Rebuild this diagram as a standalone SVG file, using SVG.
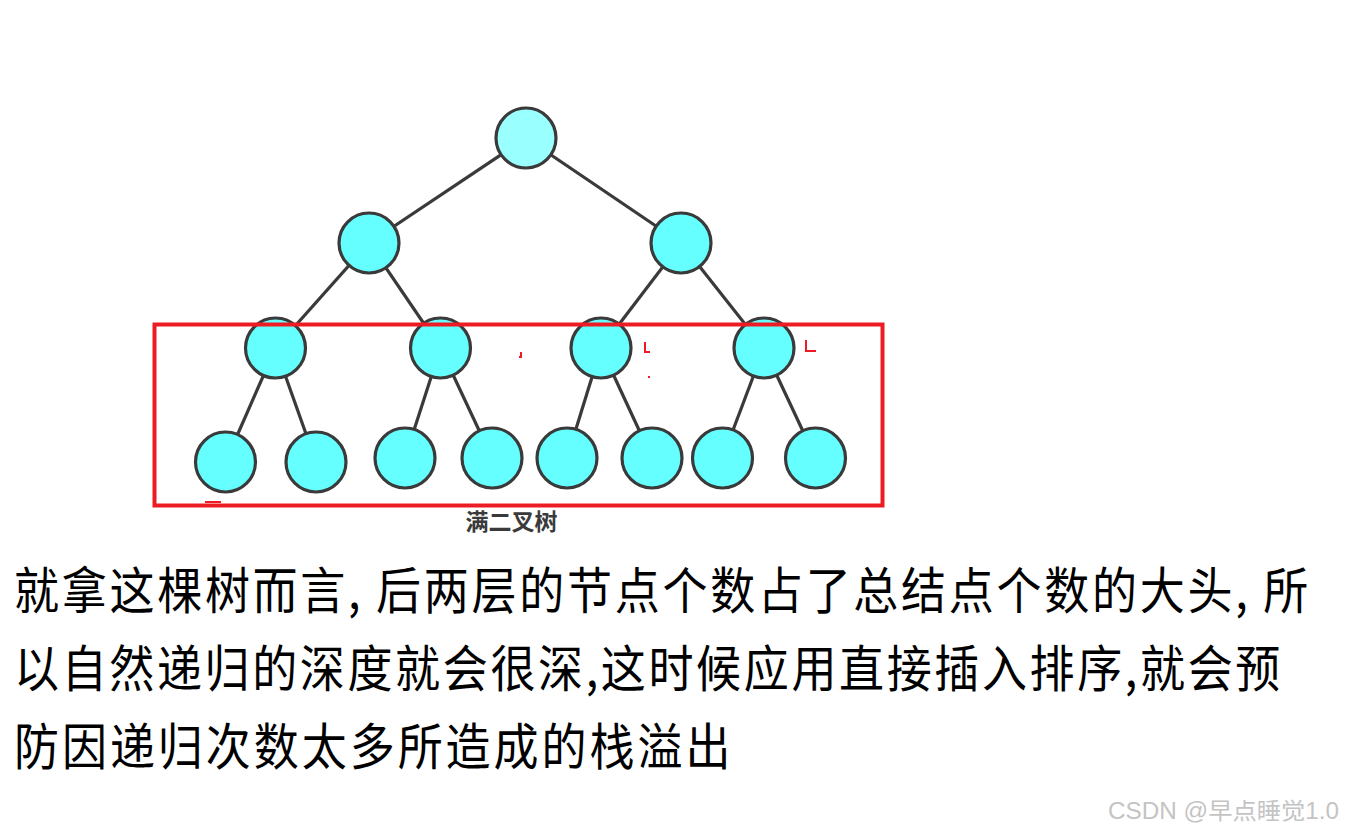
<svg xmlns="http://www.w3.org/2000/svg" width="1345" height="830" viewBox="0 0 1345 830">
<style>
.edge{stroke:#3a3a3a;stroke-width:3.2;fill:none}
.node{fill:#66ffff;stroke:#3a3a3a;stroke-width:3.2}
.root{fill:#99ffff;stroke:#3a3a3a;stroke-width:3.2}
.mark{stroke:#ed1c24;stroke-width:2;fill:none}
.body{font-family:"Noto Sans CJK SC","Noto Sans",sans-serif;font-size:50px;fill:#000}
</style>
<rect width="1345" height="830" fill="#fff"/>
<g id="connectors">
<line class="edge" x1="526" y1="138" x2="369" y2="243"/>
<line class="edge" x1="526" y1="138" x2="681" y2="243"/>
<line class="edge" x1="369" y1="243" x2="275.5" y2="348"/>
<line class="edge" x1="369" y1="243" x2="440.5" y2="348"/>
<line class="edge" x1="681" y1="243" x2="601" y2="348"/>
<line class="edge" x1="681" y1="243" x2="764" y2="348"/>
<line class="edge" x1="275.5" y1="348" x2="225.5" y2="462"/>
<line class="edge" x1="275.5" y1="348" x2="316" y2="462"/>
<line class="edge" x1="440.5" y1="348" x2="405" y2="458"/>
<line class="edge" x1="440.5" y1="348" x2="492" y2="458"/>
<line class="edge" x1="601" y1="348" x2="567" y2="458"/>
<line class="edge" x1="601" y1="348" x2="652" y2="458"/>
<line class="edge" x1="764" y1="348" x2="722.5" y2="458"/>
<line class="edge" x1="764" y1="348" x2="815.5" y2="458"/>
</g>
<g id="n1"><circle class="root" cx="526" cy="138" r="30"/></g>
<g id="n2"><circle class="node" cx="369" cy="243" r="30"/></g>
<g id="n3"><circle class="node" cx="681" cy="243" r="30"/></g>
<g id="n4"><circle class="node" cx="275.5" cy="348" r="30"/></g>
<g id="n5"><circle class="node" cx="440.5" cy="348" r="30"/></g>
<g id="n6"><circle class="node" cx="601" cy="348" r="30"/></g>
<g id="n7"><circle class="node" cx="764" cy="348" r="30"/></g>
<g id="n8"><circle class="node" cx="225.5" cy="462" r="30"/></g>
<g id="n9"><circle class="node" cx="316" cy="462" r="30"/></g>
<g id="n10"><circle class="node" cx="405" cy="458" r="30"/></g>
<g id="n11"><circle class="node" cx="492" cy="458" r="30"/></g>
<g id="n12"><circle class="node" cx="567" cy="458" r="30"/></g>
<g id="n13"><circle class="node" cx="652" cy="458" r="30"/></g>
<g id="n14"><circle class="node" cx="722.5" cy="458" r="30"/></g>
<g id="n15"><circle class="node" cx="815.5" cy="458" r="30"/></g>
<g id="highlight">
<rect x="154.5" y="324.5" width="728" height="181" fill="none" stroke="#ed1c24" stroke-width="4"/>
<path class="mark" d="M521 352V357H519"/>
<path class="mark" d="M645 342V352H650"/>
<path class="mark" d="M806 340V351H816"/>
<rect x="648" y="376" width="2" height="2" fill="#ed1c24"/>
<path class="mark" d="M205 502H221"/>
</g>
<text x="511.5" y="530" text-anchor="middle" font-family="'Noto Sans CJK SC',sans-serif" font-size="23" font-weight="bold" fill="#3a3a3a">满二叉树</text>
<g id="paragraph">
<text class="body" transform="translate(14,609) scale(0.9,1)" textLength="1438" lengthAdjust="spacing">就拿这棵树而言, 后两层的节点个数占了总结点个数的大头, 所</text>
<text class="body" transform="translate(14,687) scale(0.9,1)" textLength="1407" lengthAdjust="spacing">以自然递归的深度就会很深,这时候应用直接插入排序,就会预</text>
<text class="body" transform="translate(14,765) scale(0.9,1)" textLength="796" lengthAdjust="spacing">防因递归次数太多所造成的栈溢出</text>
</g>
<text x="1108" y="819" textLength="231" lengthAdjust="spacingAndGlyphs" font-family="'Liberation Sans','Noto Sans CJK SC',sans-serif" font-size="23" fill="#c4c4c4">CSDN @早点睡觉1.0</text>
</svg>
